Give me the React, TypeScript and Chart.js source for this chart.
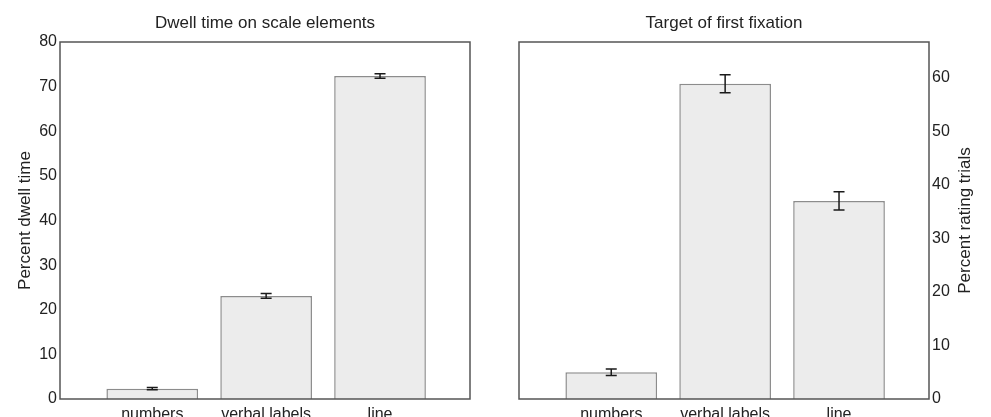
import React, { useEffect, useRef } from "react";
import { Chart, registerables } from "chart.js";

Chart.register(...registerables);

const categories = ["numbers", "verbal labels", "line"];

const dwellTitle = "Dwell time on scale elements";
const dwellAxisTitle = "Percent dwell time";
const dwellValues = [2.3, 23.1, 72.4];
const dwellErrors = [0.25, 0.55, 0.5];
const dwellTicks = [0, 10, 20, 30, 40, 50, 60, 70, 80];

const fixTitle = "Target of first fixation";
const fixAxisTitle = "Percent rating trials";
const fixValues = [5.0, 58.9, 37.0];
const fixErrors = [0.6, 1.7, 1.7];
const fixTicks = [0, 10, 20, 30, 40, 50, 60];

const FAMILY = '"Liberation Sans", Arial, Helvetica, sans-serif';
const TEXT = "#222";

type PanelCfg = {
  title: string;
  yTitle: string;
  values: number[];
  errors: number[];
  ticks: number[];
  max: number;
  side: "left" | "right";
  padding: { left: number; right: number; top: number; bottom: number };
  yWidth: number;
  yTitleX: number;
};

function makePanelPlugin(p: PanelCfg) {
  return {
    id: "panel",
    afterDatasetsDraw(chart: any) {
      const ctx = chart.ctx as CanvasRenderingContext2D;
      const { left, top, right, bottom } = chart.chartArea;
      const yScale = chart.scales.y;
      const meta = chart.getDatasetMeta(0);
      ctx.save();
      // error bars
      ctx.strokeStyle = "#1a1a1a";
      ctx.lineWidth = 1.5;
      meta.data.forEach((bar: any, i: number) => {
        const v = p.values[i];
        const e = p.errors[i];
        const x = bar.x;
        const y1 = yScale.getPixelForValue(v + e);
        const y2 = yScale.getPixelForValue(v - e);
        ctx.beginPath();
        ctx.moveTo(x, y1);
        ctx.lineTo(x, y2);
        ctx.moveTo(x - 5.5, y1);
        ctx.lineTo(x + 5.5, y1);
        ctx.moveTo(x - 5.5, y2);
        ctx.lineTo(x + 5.5, y2);
        ctx.stroke();
      });
      // frame
      ctx.strokeStyle = "#555";
      ctx.lineWidth = 1.5;
      ctx.strokeRect(left, top, right - left, bottom - top);
      // title
      ctx.fillStyle = TEXT;
      ctx.font = `17px ${FAMILY}`;
      ctx.textAlign = "center";
      ctx.textBaseline = "alphabetic";
      ctx.fillText(p.title, (left + right) / 2, 28);
      // y axis title (reads bottom to top)
      ctx.translate(p.yTitleX, (top + bottom) / 2);
      ctx.rotate(-Math.PI / 2);
      ctx.textBaseline = "middle";
      ctx.fillText(p.yTitle, 0, 0);
      ctx.restore();
    },
  };
}

function makeConfig(p: PanelCfg): any {
  return {
    type: "bar",
    data: {
      datasets: [
        {
          data: p.values.map((v, i) => ({ x: i + 1, y: v })),
          backgroundColor: "#ececec",
          borderColor: "#8c8c8c",
          borderWidth: 1.5,
          barPercentage: 0.805,
          categoryPercentage: 1,
        },
      ],
    },
    options: {
      responsive: false,
      animation: false,
      devicePixelRatio: 1,
      layout: { padding: p.padding },
      plugins: {
        legend: { display: false },
        tooltip: { enabled: false },
        title: { display: false },
      },
      scales: {
        x: {
          type: "linear",
          min: 0.19,
          max: 3.79,
          offset: false,
          grid: { display: false, drawTicks: false, tickLength: 0 },
          border: { display: false },
          afterBuildTicks: (s: any) => {
            s.ticks = categories.map((_, i) => ({ value: i + 1 }));
          },
          ticks: {
            autoSkip: false,
            maxRotation: 0,
            minRotation: 0,
            padding: 6,
            color: TEXT,
            font: { family: FAMILY, size: 16 },
            callback: (v: number) => categories[Math.round(v) - 1] ?? "",
          },
          afterFit: (s: any) => {
            s.height = 18;
          },
        },
        y: {
          type: "linear",
          position: p.side,
          min: 0,
          max: p.max,
          grid: { display: false, drawTicks: false, tickLength: 0 },
          border: { display: false },
          afterBuildTicks: (s: any) => {
            s.ticks = p.ticks.map((v) => ({ value: v }));
          },
          ticks: {
            padding: 3,
            color: TEXT,
            font: { family: FAMILY, size: 16 },
            callback: (v: number) => String(v),
          },
          afterFit: (s: any) => {
            s.width = p.yWidth;
          },
        },
      },
    },
    plugins: [makePanelPlugin(p)],
  };
}

const leftCfg: PanelCfg = {
  title: dwellTitle,
  yTitle: dwellAxisTitle,
  values: dwellValues,
  errors: dwellErrors,
  ticks: dwellTicks,
  max: 80,
  side: "left",
  padding: { left: 0, right: 25, top: 42, bottom: 0 },
  yWidth: 60,
  yTitleX: 25,
};

const rightCfg: PanelCfg = {
  title: fixTitle,
  yTitle: fixAxisTitle,
  values: fixValues,
  errors: fixErrors,
  ticks: fixTicks,
  max: 66.7,
  side: "right",
  padding: { left: 24, right: 0, top: 42, bottom: 0 },
  yWidth: 62,
  yTitleX: 470,
};

function Panel({ cfg, x, width }: { cfg: PanelCfg; x: number; width: number }) {
  const ref = useRef<HTMLCanvasElement | null>(null);
  useEffect(() => {
    if (!ref.current) return;
    const chart = new Chart(ref.current, makeConfig(cfg));
    return () => chart.destroy();
  }, [cfg]);
  return (
    <canvas
      ref={ref}
      width={width}
      height={417}
      style={{ position: "absolute", left: x, top: 0, width, height: 417 }}
    />
  );
}

export default function App() {
  return (
    <div
      style={{
        position: "absolute",
        left: 0,
        top: 0,
        width: 991,
        height: 417,
        background: "#fff",
        overflow: "hidden",
      }}
    >
      <Panel cfg={leftCfg} x={0} width={495} />
      <Panel cfg={rightCfg} x={495} width={496} />
    </div>
  );
}
